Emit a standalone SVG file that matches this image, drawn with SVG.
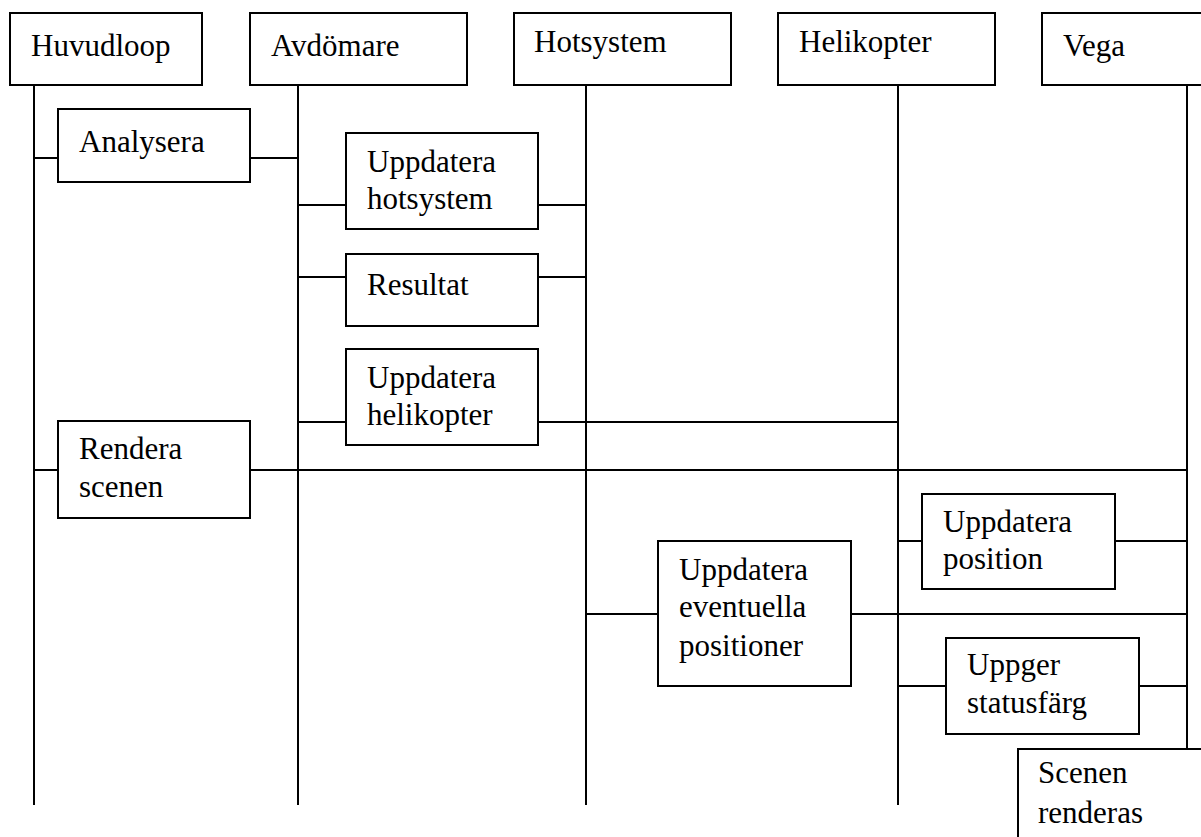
<svg xmlns="http://www.w3.org/2000/svg" width="1201" height="837" viewBox="0 0 1201 837">
  <style>
    .box { fill: #ffffff; stroke: #000000; stroke-width: 2; }
    .life { stroke: #000000; stroke-width: 2; fill: none; }
    .msg { stroke: #000000; stroke-width: 2; fill: none; }
  </style>
  <rect width="1201" height="837" fill="#ffffff"/>

  <!-- lifelines -->
  <g id="lifelines">
    <line class="life" x1="34" y1="85" x2="34" y2="805"/>
    <line class="life" x1="298" y1="85" x2="298" y2="805"/>
    <line class="life" x1="586" y1="85" x2="586" y2="805"/>
    <line class="life" x1="898" y1="85" x2="898" y2="805"/>
    <line class="life" x1="1187" y1="85" x2="1187" y2="749"/>
  </g>

  <!-- message connectors -->
  <g id="connectors">
    <path class="msg" d="M34 158H58M250 158H298"/>
    <path class="msg" d="M298 205H346M538 205H586"/>
    <path class="msg" d="M298 277H346M538 277H586"/>
    <path class="msg" d="M298 422H346M538 422H898"/>
    <path class="msg" d="M34 470H58M250 470H1187"/>
    <path class="msg" d="M898 541H922M1115 541H1187"/>
    <path class="msg" d="M586 614H658M851 614H1187"/>
    <path class="msg" d="M898 686H946M1139 686H1187"/>
  </g>

  <g font-family="Liberation Serif, Times New Roman, serif" font-size="31" fill="#000000">
    <!-- participants -->
    <g id="huvudloop">
      <rect class="box" x="10" y="13" width="192" height="72"/>
      <text x="31" y="56">Huvudloop</text>
    </g>
    <g id="avdomare">
      <rect class="box" x="250" y="13" width="217" height="72"/>
      <text x="271" y="56">Avdömare</text>
    </g>
    <g id="hotsystem">
      <rect class="box" x="514" y="13" width="217" height="72"/>
      <text x="534" y="52">Hotsystem</text>
    </g>
    <g id="helikopter">
      <rect class="box" x="778" y="13" width="217" height="72"/>
      <text x="799" y="52">Helikopter</text>
    </g>
    <g id="vega">
      <rect class="box" x="1042" y="13" width="170" height="72"/>
      <text x="1063" y="56">Vega</text>
    </g>

    <!-- activities -->
    <g id="analysera">
      <rect class="box" x="58" y="109" width="192" height="73"/>
      <text x="79" y="152">Analysera</text>
    </g>
    <g id="uppdatera-hotsystem">
      <rect class="box" x="346" y="133" width="192" height="96"/>
      <text x="367" y="172">Uppdatera</text>
      <text x="367" y="209">hotsystem</text>
    </g>
    <g id="resultat">
      <rect class="box" x="346" y="254" width="192" height="72"/>
      <text x="367" y="295">Resultat</text>
    </g>
    <g id="uppdatera-helikopter">
      <rect class="box" x="346" y="349" width="192" height="96"/>
      <text x="367" y="388">Uppdatera</text>
      <text x="367" y="425">helikopter</text>
    </g>
    <g id="rendera-scenen">
      <rect class="box" x="58" y="421" width="192" height="97"/>
      <text x="79" y="459">Rendera</text>
      <text x="79" y="497">scenen</text>
    </g>
    <g id="uppdatera-position">
      <rect class="box" x="922" y="494" width="193" height="95"/>
      <text x="943" y="532">Uppdatera</text>
      <text x="943" y="569">position</text>
    </g>
    <g id="uppdatera-eventuella-positioner">
      <rect class="box" x="658" y="541" width="193" height="145"/>
      <text x="679" y="580">Uppdatera</text>
      <text x="679" y="617">eventuella</text>
      <text x="679" y="656">positioner</text>
    </g>
    <g id="uppger-statusfarg">
      <rect class="box" x="946" y="638" width="193" height="96"/>
      <text x="967" y="675">Uppger</text>
      <text x="967" y="713">statusfärg</text>
    </g>
    <g id="scenen-renderas">
      <rect class="box" x="1018" y="749" width="200" height="100"/>
      <text x="1038" y="783">Scenen</text>
      <text x="1038" y="823">renderas</text>
    </g>
  </g>
</svg>
